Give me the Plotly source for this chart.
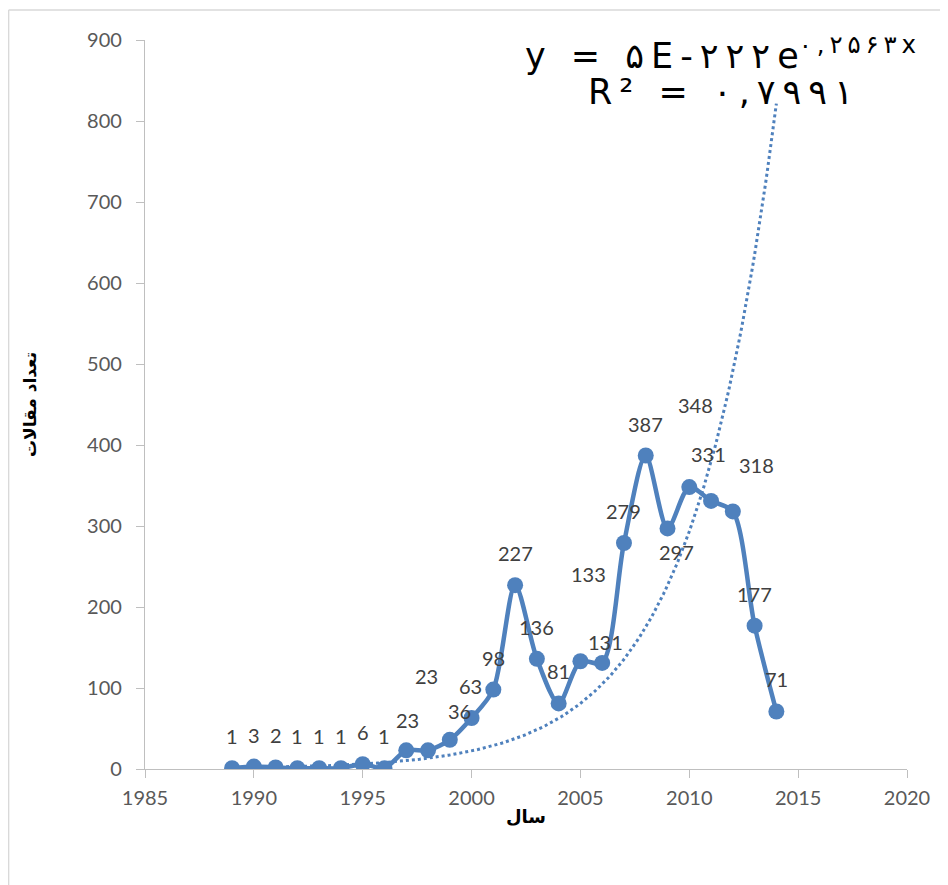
import numpy as np
import plotly.graph_objects as go

# ---- data ----
years = [1989, 1990, 1991, 1992, 1993, 1994, 1995, 1996, 1997, 1998, 1999, 2000, 2001,
         2002, 2003, 2004, 2005, 2006, 2007, 2008, 2009, 2010, 2011, 2012, 2013, 2014]
counts = [1, 3, 2, 1, 1, 1, 6, 1, 23, 23, 36, 63, 98,
          227, 136, 81, 133, 131, 279, 387, 297, 348, 331, 318, 177, 71]
x_title = "سال"
y_title = "تعداد مقالات"
eq_base = "y = ۵E-۲۲۲e"
eq_exp = "۰,۲۵۶۳x"
eq_r2 = "R² = ۰,۷۹۹۱"

# ---- label placement (pixel shifts of data labels: dx, dy up) ----
label_shift = {1997: (1, 30), 1998: (-2, 74), 1999: (10, 29), 2000: (-1, 32),
               2005: (8, 87), 2006: (3, 21), 2009: (9, -24), 2010: (6, 82),
               2011: (-3, 47), 2012: (24, 46)}

BLUE = "#4F81BD"
GREY = "#BFBFBF"
TXT = "#595959"
NUMFONT = "Lato, Open Sans, sans-serif"


def spaced(s):
    # widen text (reference equation is drawn horizontally stretched)
    return "\u2009".join(s)


# Excel-style exponential trendline: least squares on ln(y)
b, a = np.polyfit(np.array(years, float), np.log(np.array(counts, float)), 1)
tx = np.linspace(years[0], years[-1], 300)
ty = np.exp(a + b * tx)

fig = go.Figure()
fig.add_trace(go.Scatter(x=tx, y=ty, mode="lines",
                         line=dict(color=BLUE, width=3, dash="dot"),
                         hoverinfo="skip", showlegend=False))
fig.add_trace(go.Scatter(x=years, y=counts, mode="lines+markers",
                         line=dict(color=BLUE, width=4.5, shape="spline", smoothing=0.8),
                         marker=dict(color=BLUE, size=16),
                         showlegend=False))

anns = []
for yr, v in zip(years, counts):
    dx, dy = label_shift.get(yr, (0, 32))
    anns.append(dict(x=yr, y=v, xref="x", yref="y", text=str(v), showarrow=False,
                     xshift=dx, yshift=dy,
                     font=dict(family=NUMFONT, size=20, color="#404040")))

line1 = spaced(eq_base) + "<sup>" + spaced(eq_exp) + "</sup>"
line2 = spaced(eq_r2)
anns.append(dict(x=0.755, y=0.982, xref="paper", yref="paper", text=line1,
                 showarrow=False, xanchor="center", yanchor="middle",
                 font=dict(family="DejaVu Sans", size=35, color="#000000")))
anns.append(dict(x=0.755, y=0.928, xref="paper", yref="paper", text=line2,
                 showarrow=False, xanchor="center", yanchor="middle",
                 font=dict(family="DejaVu Sans", size=35, color="#000000")))

fig.update_layout(
    width=940, height=877,
    margin=dict(l=137, r=41, t=32, b=116),
    paper_bgcolor="white", plot_bgcolor="white",
    annotations=anns,
    shapes=[
        dict(type="line", xref="paper", yref="paper", x0=-0.179, x1=1.06, y0=1.0412, y1=1.0412,
             line=dict(color="#D9D9D9", width=1.5)),
        dict(type="line", xref="paper", yref="paper", x0=-0.179, x1=-0.179, y0=1.0412, y1=-0.17,
             line=dict(color="#D9D9D9", width=1.5)),
    ],
    xaxis=dict(range=[1985, 2020], dtick=5, tick0=1985, showgrid=False, zeroline=False,
               showline=True, linecolor=GREY, linewidth=1.2,
               ticks="outside", ticklen=8, tickcolor=GREY, ticklabelstandoff=3,
               tickfont=dict(family=NUMFONT, size=20, color=TXT),
               title=dict(text="<b>" + x_title + "</b>", standoff=2,
                          font=dict(family="DejaVu Sans", size=18, color="#000000"))),
    yaxis=dict(range=[0, 900], dtick=100, showgrid=False, zeroline=False,
               showline=True, linecolor=GREY, linewidth=1.2,
               ticks="outside", ticklen=8, tickcolor=GREY, ticklabelstandoff=10,
               tickfont=dict(family=NUMFONT, size=20, color=TXT),
               title=dict(text="<b>" + y_title + "</b>", standoff=46,
                          font=dict(family="DejaVu Sans", size=17, color="#000000"))),
)

fig.write_html("out.html")
